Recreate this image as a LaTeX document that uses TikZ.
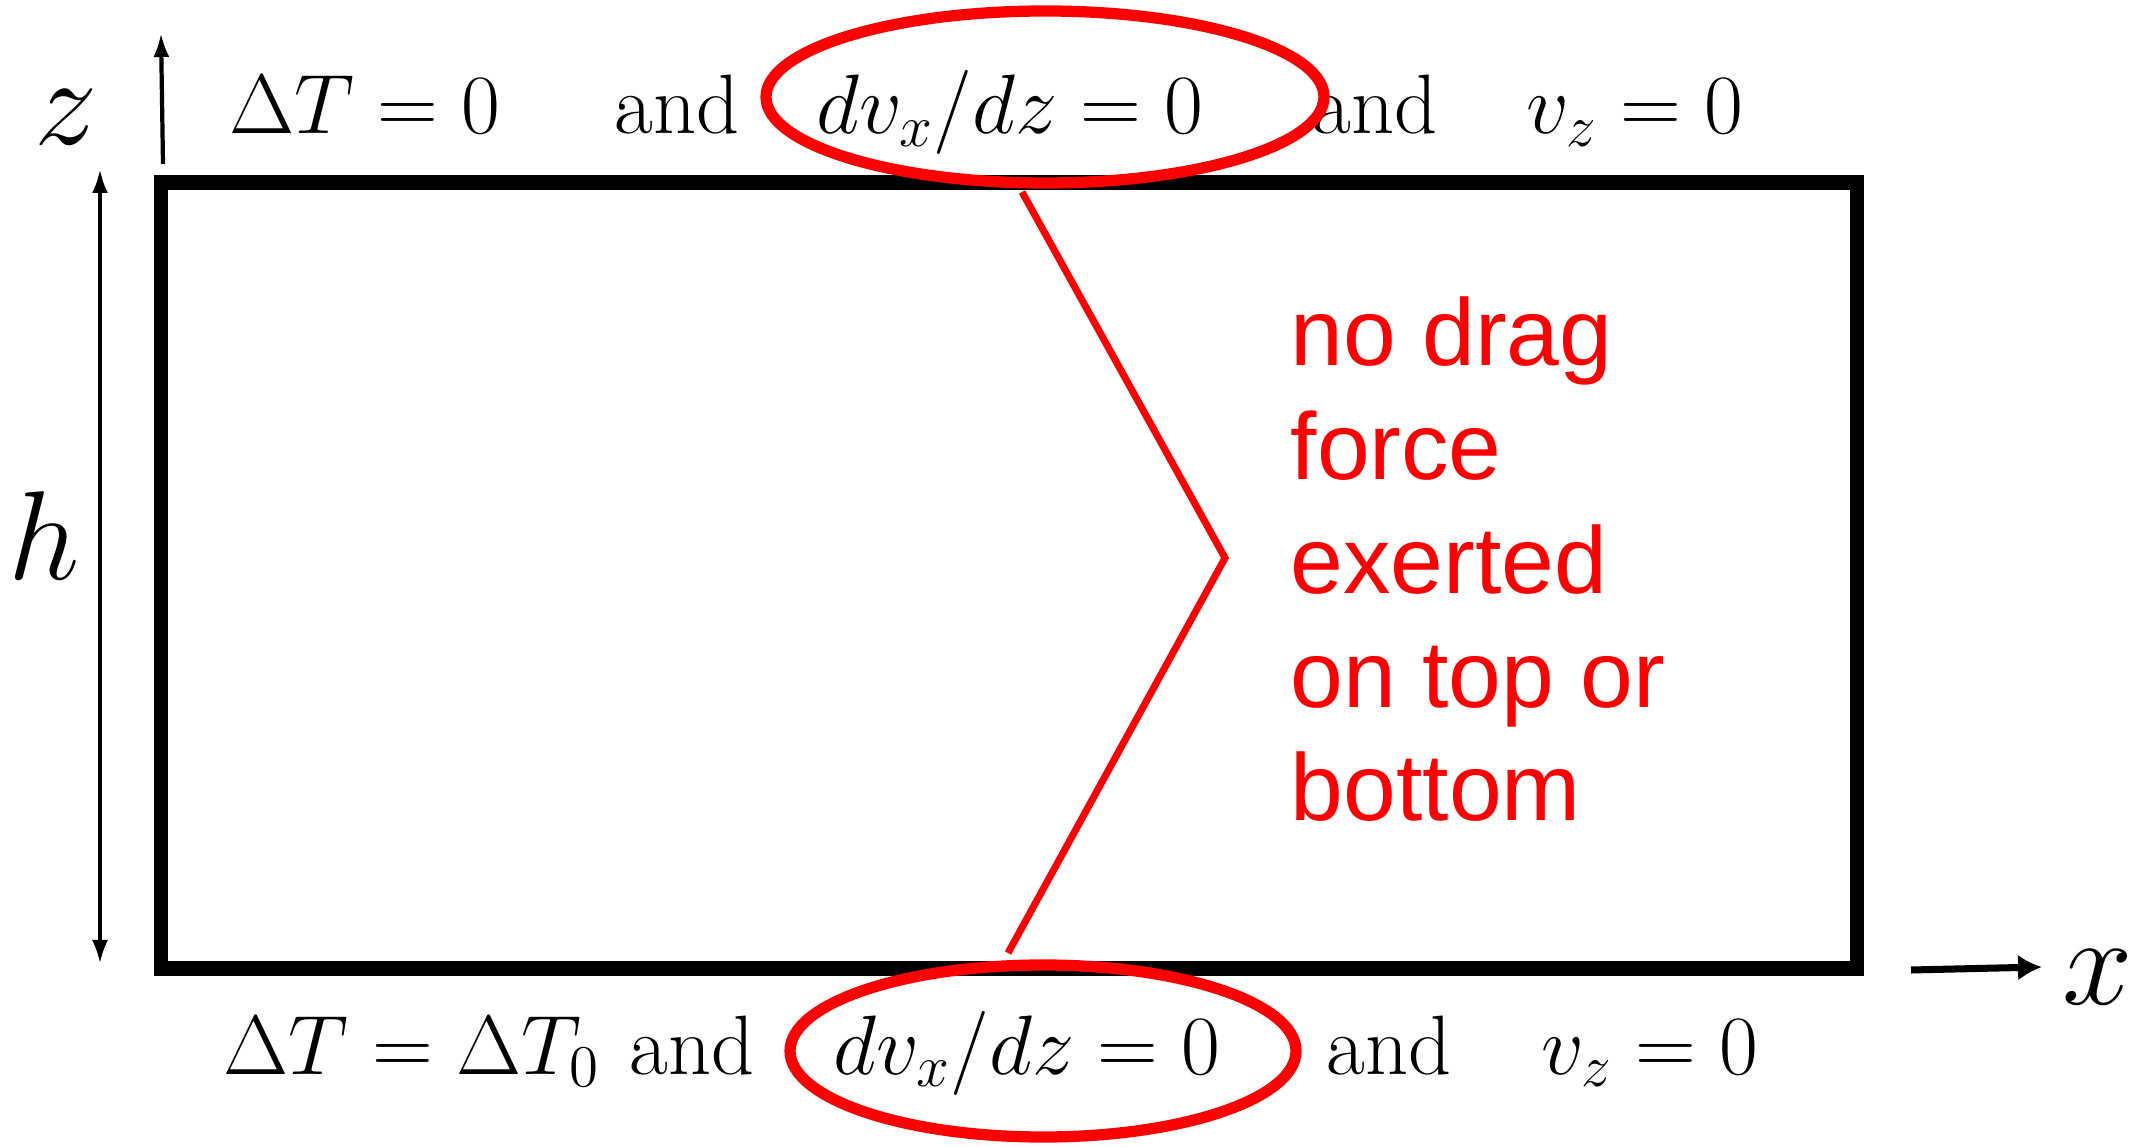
\RequirePackage{fix-cm}
\documentclass[tikz,border=0pt]{standalone}
\usepackage{fontspec}
\newfontfamily\notefont{Liberation Sans}
\usepackage{tikz}
\usetikzlibrary{arrows.meta,positioning,shapes.geometric}
\tikzset{
  slabBox/.style={draw=black, line width=4pt, inner sep=0pt,
    minimum width=16.96cm, minimum height=7.86cm},
  %% Boundary conditions
  bcText/.style={anchor=base, inner sep=0pt, font=\fontsize{24}{28}\selectfont},
  axisLbl/.style={anchor=base, inner sep=0pt, font=\fontsize{36}{40}\selectfont},
  %% Axes and height
  axisArr/.style={-{Latex[length=0.24cm,width=0.16cm]}, line width=1.2pt},
  xArr/.style={-{Latex[length=0.24cm,width=0.26cm]}, line width=2pt},
  hArr/.style={{Latex[length=0.24cm,width=0.16cm]}-{Latex[length=0.24cm,width=0.16cm]}, line width=1.2pt},
  %% Red marks
  ringMark/.style={ellipse, draw=red, line width=3.2pt, inner sep=0pt},
  zigLine/.style={draw=red, line width=2pt, line join=miter},
  noteText/.style={text=red, align=left, anchor=north west, inner sep=0pt,
    font=\notefont\fontsize{27}{32.4}\selectfont},
}
\begin{document}
\begin{tikzpicture}[x=1cm, y=1cm]
\useasboundingbox (0,0) rectangle (21.51,11.46);

%% Slab
\node[slabBox] (slab) at (10.09,5.705) {};

%% Axes
\coordinate (zFoot) at (1.63,9.82);
\coordinate (zTip)  at (1.61,11.13);
\coordinate (xFoot) at (19.11,1.76);
\coordinate (xTip)  at (20.42,1.79);
\coordinate (hTop)  at (1.00,9.77);
\coordinate (hBot)  at (1.00,1.82);
\draw[axisArr] (zFoot) -- (zTip);
\draw[xArr] (xFoot) -- (xTip);
\draw[hArr] (hBot) -- (hTop);
\node[axisLbl] (zLbl) at (0.66,10.01) {$z$};
\node[axisLbl] (hLbl) at (0.44,5.66) {$h$};
\node[axisLbl] (xLbl) at (20.98,1.42) {$x$};

%% Top boundary
\node[bcText] (topT)   at (3.65,10.12) {$\Delta T = 0$};
\node[bcText] (topAnd) at (6.77,10.12) {and};
\node[bcText] (topDv)  at (10.10,10.12) {$dv_x/dz = 0$};
\node[bcText] (topAnd2) at (13.75,10.12) {and};
\node[bcText] (topVz)  at (16.35,10.12) {$v_z = 0$};

%% Bottom boundary
\node[bcText] (botT)   at (4.12,0.72) {$\Delta T = \Delta T_0$};
\node[bcText] (botAnd) at (6.92,0.72) {and};
\node[bcText] (botDv)  at (10.27,0.72) {$dv_x/dz = 0$};
\node[bcText] (botAnd2) at (13.89,0.72) {and};
\node[bcText] (botVz)  at (16.50,0.72) {$v_z = 0$};

%% Circled conditions
\node[ringMark, minimum width=5.58cm, minimum height=1.72cm] (topRing) at (10.45,10.49) {};
\node[ringMark, minimum width=5.06cm, minimum height=1.72cm] (botRing) at (10.43,0.95) {};

%% Pointer and note
\coordinate (zigTop) at (10.22,9.54);
\coordinate (zigMid) at (12.25,5.88);
\coordinate (zigBot) at (10.08,1.93);
\draw[zigLine] (zigTop) -- (zigMid) -- (zigBot);
\node[noteText] (note) at (12.90,8.50) {no drag\\force\\exerted\\on top or\\bottom};

\end{tikzpicture}
\end{document}
